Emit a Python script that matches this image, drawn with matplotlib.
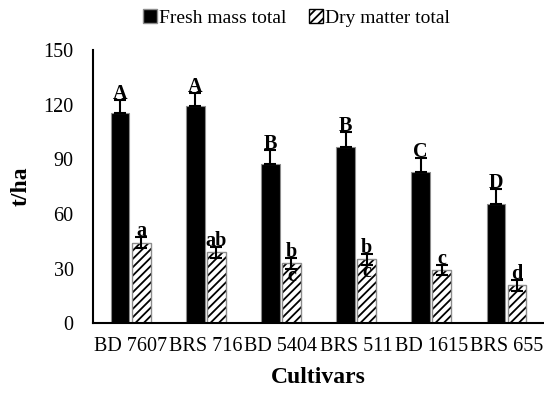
import matplotlib
matplotlib.use("Agg")
import matplotlib.pyplot as plt
import numpy as np
from matplotlib.patches import Patch

plt.rcParams['font.family'] = ['Liberation Serif', 'DejaVu Serif']
plt.rcParams['hatch.linewidth'] = 1.3

cultivars = ["BD 7607", "BRS 716", "BD 5404", "BRS 511", "BD 1615", "BRS 655"]
fresh_mass = [115.7, 119.3, 87.7, 96.9, 83.1, 65.6]
fresh_err = [7.0, 7.0, 7.5, 8.0, 7.7, 8.0]
dry_matter = [44.3, 39.0, 32.9, 35.1, 29.2, 20.8]
dry_err = [3.0, 3.0, 3.0, 3.0, 3.0, 3.0]
fresh_letters = ["A", "A", "B", "B", "C", "D"]
dry_letters = ["a", "ab", "b\nc", "b\nc", "c", "d"]
yticks = [0, 30, 60, 90, 120, 150]

fig = plt.figure(figsize=(5.44, 3.95), dpi=100)
ax = fig.add_axes([0.171, 0.182, 0.829, 0.691])

x = np.arange(len(cultivars))
w = 0.25
off = 0.14

ax.bar(x - off, fresh_mass, w, color='black', edgecolor='#8c8c8c', linewidth=0.8, zorder=2)
ax.errorbar(x - off, fresh_mass, yerr=[np.zeros(len(x)), fresh_err], fmt='none',
            ecolor='black', elinewidth=1.5, capsize=4, capthick=1.5, zorder=3)
ax.bar(x + off, dry_matter, w, color='white', edgecolor='black', hatch='////',
       linewidth=0, zorder=2)
ax.bar(x + off, dry_matter, w, color='none', edgecolor='#8c8c8c', linewidth=1.0, zorder=2.5)
ax.errorbar(x + off, dry_matter, yerr=dry_err, fmt='none',
            ecolor='black', elinewidth=1.5, capsize=4, capthick=1.5, zorder=3)

for xi, v, e, t in zip(x - off, fresh_mass, fresh_err, fresh_letters):
    ax.text(xi, v + e + 0.5, t, ha='center', va='baseline', fontsize=14.5,
            fontweight='bold', zorder=4)
for xi, v, e, t in zip(x + off, dry_matter, dry_err, dry_letters):
    for k, line in enumerate(t.split('\n')):
        ax.text(xi, v + e + 0.5 - 13.5 * k, line, ha='center', va='baseline',
                fontsize=14.5, fontweight='bold', zorder=4)

ax.set_xlim(-0.5, len(cultivars) - 0.5)
ax.set_ylim(0, 150)
ax.set_yticks(yticks)
ax.set_xticks(x)
ax.set_xticklabels(cultivars)
ax.tick_params(axis='y', length=0, labelsize=14.5, pad=14)
ax.tick_params(axis='x', length=0, labelsize=14.5, pad=10)
for s in ['top', 'right']:
    ax.spines[s].set_visible(False)
for s in ['left', 'bottom']:
    ax.spines[s].set_linewidth(1.5)
    ax.spines[s].set_color('black')

ax.set_ylabel("t/ha", fontsize=17, fontweight='bold')
ax.yaxis.set_label_coords(-0.135, 0.5)
ax.set_xlabel("Cultivars", fontsize=17, fontweight='bold')
ax.xaxis.set_label_coords(0.5, -0.16)

handles = [Patch(facecolor='black', edgecolor='#8c8c8c', label='Fresh mass total'),
           Patch(facecolor='white', edgecolor='black', hatch='////', label='Dry matter total')]
fig.legend(handles=handles, loc='center', bbox_to_anchor=(0.545, 0.955), ncol=2,
           frameon=False, fontsize=14, handlelength=0.7, handleheight=0.7,
           handletextpad=0.1, columnspacing=1.2, borderaxespad=0)

fig.savefig("out.png", dpi=100)
